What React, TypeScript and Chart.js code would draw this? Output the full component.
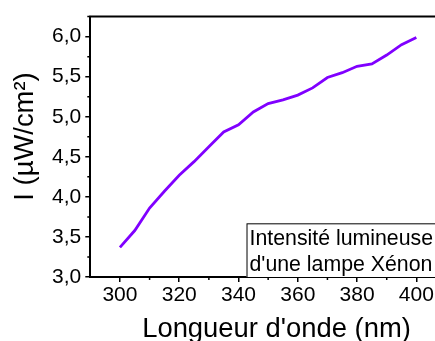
import React, { useEffect, useRef } from "react";
import { Chart, registerables } from "chart.js";

Chart.register(...registerables);

const wavelengths = [300, 305, 310, 315, 320, 325, 330, 335, 340, 345, 350, 355, 360, 365, 370, 375, 380, 385, 390, 395, 400];
const intensity = [3.37, 3.58, 3.86, 4.07, 4.27, 4.44, 4.625, 4.81, 4.9, 5.06, 5.165, 5.21, 5.27, 5.36, 5.49, 5.55, 5.63, 5.66, 5.77, 5.9, 5.99];
const xMajorTicks = [300, 320, 340, 360, 380, 400];
const xMinorTicks = [310, 330, 350, 370, 390, 410];
const yMajorTicks = [3.0, 3.5, 4.0, 4.5, 5.0, 5.5, 6.0];
const yMinorTicks = [3.25, 3.75, 4.25, 4.75, 5.25, 5.75, 6.25];
const xTitle = "Longueur d'onde (nm)";
const yTitle = "I (µW/cm²)";
const noteLines = ["Intensité lumineuse", "d'une lampe Xénon"];

const FONT = "'Liberation Sans', Arial, sans-serif";

const decorPlugin = {
  id: "decor",
  afterDraw(chart: any) {
    const { ctx, chartArea, scales } = chart;
    const xs = scales.x;
    const ys = scales.y;
    ctx.save();
    ctx.strokeStyle = "#000";
    // top border
    ctx.lineWidth = 2;
    ctx.beginPath();
    ctx.moveTo(chartArea.left - 1, chartArea.top);
    ctx.lineTo(chartArea.right + 5, chartArea.top);
    ctx.stroke();
    // minor ticks
    ctx.lineWidth = 1.5;
    ctx.beginPath();
    xMinorTicks.forEach((v) => {
      const px = xs.getPixelForValue(v);
      ctx.moveTo(px, chartArea.bottom);
      ctx.lineTo(px, chartArea.bottom + 3);
    });
    yMinorTicks.forEach((v) => {
      const py = ys.getPixelForValue(v);
      ctx.moveTo(chartArea.left, py);
      ctx.lineTo(chartArea.left - 3, py);
    });
    ctx.stroke();
    // note box
    ctx.font = `21.3px ${FONT}`;
    const w = Math.max(...noteLines.map((l) => ctx.measureText(l).width));
    const left = xs.getPixelForValue(342.7);
    const top = ys.getPixelForValue(3.67);
    ctx.fillStyle = "#fff";
    ctx.fillRect(left, top, w + 12, chartArea.bottom - top);
    ctx.lineWidth = 1;
    ctx.strokeRect(left + 0.5, top + 0.5, w + 12, chartArea.bottom - top);
    ctx.fillStyle = "#000";
    ctx.textAlign = "left";
    ctx.textBaseline = "alphabetic";
    ctx.fillText(noteLines[0], left + 3, top + 21.5);
    ctx.fillText(noteLines[1], left + 3, top + 47.5);
    // axis titles
    ctx.font = `27.4px ${FONT}`;
    ctx.textAlign = "center";
    ctx.fillText(xTitle, 276.5, 336.5);
    ctx.save();
    ctx.translate(33, 136.5);
    ctx.rotate(-Math.PI / 2);
    ctx.fillText(yTitle, 0, 0);
    ctx.restore();
    ctx.restore();
  },
};

export default function App() {
  const ref = useRef<HTMLCanvasElement | null>(null);
  useEffect(() => {
    if (!ref.current) return;
    const chart = new Chart(ref.current, {
      type: "line",
      data: {
        datasets: [
          {
            data: wavelengths.map((x, i) => ({ x, y: intensity[i] })),
            borderColor: "#8000ff",
            borderWidth: 2.8,
            pointRadius: 0,
            tension: 0,
            fill: false,
          },
        ],
      },
      options: {
        animation: false,
        responsive: false,
        devicePixelRatio: 1,
        layout: { padding: { top: 13, right: 4, left: 0, bottom: 0 } },
        plugins: { legend: { display: false }, tooltip: { enabled: false }, title: { display: false } },
        scales: {
          x: {
            type: "linear",
            min: 290,
            max: 410,
            afterBuildTicks: (s: any) => {
              s.ticks = xMajorTicks.map((v) => ({ value: v }));
            },
            afterFit: (s: any) => {
              s.height = 64;
            },
            ticks: {
              autoSkip: false,
              maxRotation: 0,
              color: "#000",
              font: { size: 21, family: FONT },
              padding: 1,
              callback: (v: any) => String(v),
            },
            grid: { display: true, drawOnChartArea: false, drawTicks: true, tickLength: 5, color: "#000", lineWidth: 1.5 },
            border: { display: true, color: "#000", width: 2 },
          },
          y: {
            type: "linear",
            min: 3,
            max: 6.25,
            afterBuildTicks: (s: any) => {
              s.ticks = yMajorTicks.map((v) => ({ value: v }));
            },
            afterFit: (s: any) => {
              s.width = 90.3;
            },
            ticks: {
              autoSkip: false,
              color: "#000",
              font: { size: 21, family: FONT },
              padding: 4,
              callback: (v: any) => Number(v).toFixed(1).replace(".", ","),
            },
            grid: { display: true, drawOnChartArea: false, drawTicks: true, tickLength: 5, color: "#000", lineWidth: 1.5 },
            border: { display: true, color: "#000", width: 2 },
          },
        },
      },
      plugins: [decorPlugin],
    });
    return () => chart.destroy();
  }, []);
  return (
    <div style={{ position: "fixed", left: 0, top: 0, width: 435, height: 341, overflow: "hidden", background: "#fff" }}>
      <canvas ref={ref} width={450} height={341} style={{ width: 450, height: 341, display: "block" }} />
    </div>
  );
}
